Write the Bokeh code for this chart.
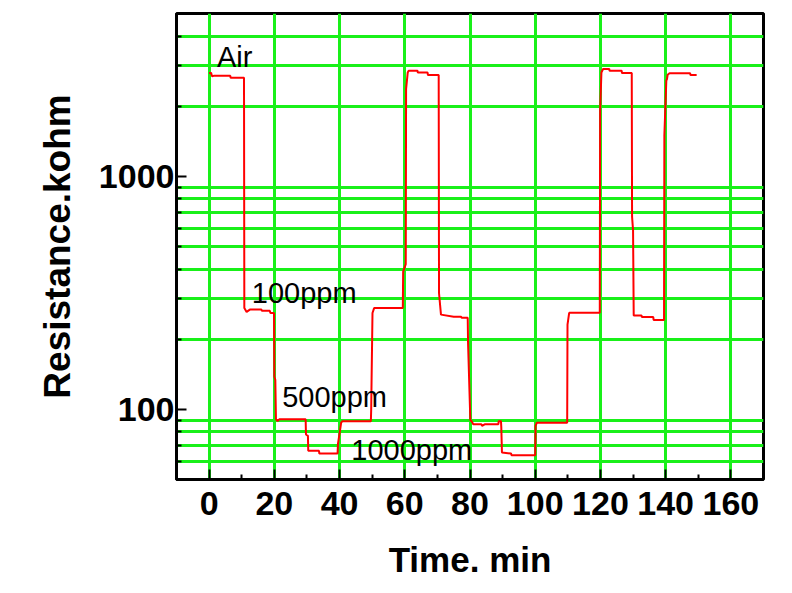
from bokeh.plotting import figure
from bokeh.models import FixedTicker, PrintfTickFormatter, ColumnDataSource, Range1d
from bokeh.core.properties import value
from bokeh.embed import file_html
from bokeh.resources import INLINE

# Measured resistance trace (time in min, resistance in kOhm)
time_min = [0.0, 0.6, 0.9, 1.4, 6.5, 6.6, 10.7, 10.8, 11.5, 12.5, 16.0, 16.2, 18.6, 18.8, 19.9,
            20.0, 20.3, 20.5, 21.0, 21.5, 29.6, 29.7, 30.3, 30.4, 33.7, 33.8, 39.4, 39.5, 40.5,
            40.9, 49.6, 49.7, 50.1, 50.6, 59.4, 59.5, 60.3, 60.4, 60.9, 61.2, 63.9, 64.0, 67.0,
            67.1, 70.4, 70.5, 71.1, 75.0, 77.3, 77.4, 79.3, 79.4, 80.1, 80.5, 81.0, 83.5, 83.7,
            84.5, 88.7, 88.8, 89.5, 89.6, 89.8, 92.6, 92.7, 100.0, 100.1, 100.5, 109.8, 109.9,
            110.4, 110.6, 119.8, 119.9, 120.3, 120.8, 122.7, 122.8, 126.5, 126.6, 129.6, 129.7,
            130.0, 130.2, 132.6, 132.7, 136.2, 136.3, 139.5, 139.6, 140.2, 140.4, 140.6, 141.2,
            147.5, 147.6, 149.5]
resistance_kohm = [2780, 2780, 2690, 2700, 2700, 2650, 2650, 272, 262, 268, 268, 265, 265, 259, 259,
                   138, 134, 90.6, 89.1, 90.6, 90.6, 78, 77, 66.4, 66.4, 64.6, 64.6, 70.9, 87.7,
                   89, 89, 100, 259, 272, 272, 390, 420, 2370, 2790, 2840, 2840, 2790, 2790,
                   2720, 2720, 315, 255, 250, 250, 247, 247, 193, 90, 89, 86.3, 86.3, 85,
                   86.3, 86.3, 89, 89, 83.5, 65.3, 64.6, 63.6, 63.6, 84.9, 87.7, 87.7, 231,
                   259, 260, 260, 1915, 2790, 2890, 2890, 2840, 2840, 2775, 2775, 670,
                   588, 253, 253, 249, 249, 242, 242, 1497, 2573, 2615, 2730, 2770,
                   2770, 2720, 2720]

x_major_ticks = [0, 20, 40, 60, 80, 100, 120, 140, 160]
x_minor_ticks = [10, 30, 50, 70, 90, 110, 130, 150]
y_major_ticks = [100, 1000]
y_minor_ticks = [60, 70, 80, 90, 200, 300, 400, 500, 600, 700, 800, 900, 2000, 3000, 4000]

label_texts = ["Air", "100ppm", "500ppm", "1000ppm"]
label_x = [2.4, 13.1, 22.4, 43.6]
label_y = [2980, 289, 103, 61]

GREEN = "#19F019"
FONT = "Liberation Sans"

p = figure(width=784, height=585, x_range=Range1d(-10, 170), y_range=Range1d(50, 5000),
           y_axis_type="log", output_backend="svg", toolbar_location=None,
           min_border_left=176, min_border_right=21, min_border_top=13, min_border_bottom=106)
p.background_fill_color = "white"
p.border_fill_color = "white"
p.outline_line_color = "black"
p.outline_line_width = 3

p.xaxis.ticker = FixedTicker(ticks=x_major_ticks, minor_ticks=x_minor_ticks)
p.yaxis.ticker = FixedTicker(ticks=y_major_ticks, minor_ticks=y_minor_ticks)
p.yaxis.formatter = PrintfTickFormatter(format="%d")

p.xgrid.grid_line_color = GREEN
p.xgrid.grid_line_width = 3
p.xgrid.minor_grid_line_color = None
p.ygrid.grid_line_color = None
p.ygrid.minor_grid_line_color = GREEN
p.ygrid.minor_grid_line_width = 3

for ax in (p.xaxis[0], p.yaxis[0]):
    ax.axis_line_color = "black"
    ax.axis_line_width = 3
    ax.major_tick_in = 10
    ax.major_tick_out = 0
    ax.minor_tick_in = 5
    ax.minor_tick_out = 0
    ax.major_tick_line_width = 2
    ax.minor_tick_line_width = 2
    ax.major_tick_line_color = "black"
    ax.minor_tick_line_color = "black"
    ax.major_label_text_font = FONT
    ax.major_label_text_font_style = "bold"
    ax.major_label_text_font_size = "34px"
    ax.major_label_text_color = "black"
    ax.axis_label_text_font = FONT
    ax.axis_label_text_font_style = "bold"
    ax.axis_label_text_color = "black"

p.xaxis.axis_label = "Time. min"
p.xaxis.axis_label_text_font_size = "35px"
p.xaxis.major_label_standoff = 12
p.xaxis.axis_label_standoff = 22

p.yaxis.axis_label = "Resistance.kohm"
p.yaxis.axis_label_text_font_size = "37px"
p.yaxis.major_label_standoff = 2
p.yaxis.axis_label_standoff = 18

src = ColumnDataSource(dict(t=time_min, r=resistance_kohm))
p.line("t", "r", source=src, line_color="#FF0000", line_width=2)

p.text(x=label_x, y=label_y, text=label_texts, text_font=value(FONT), y_offset=-9,
       text_font_size="29px", text_baseline="alphabetic", text_align="left", text_color="black")

open("out.html", "w").write(file_html(p, INLINE))
